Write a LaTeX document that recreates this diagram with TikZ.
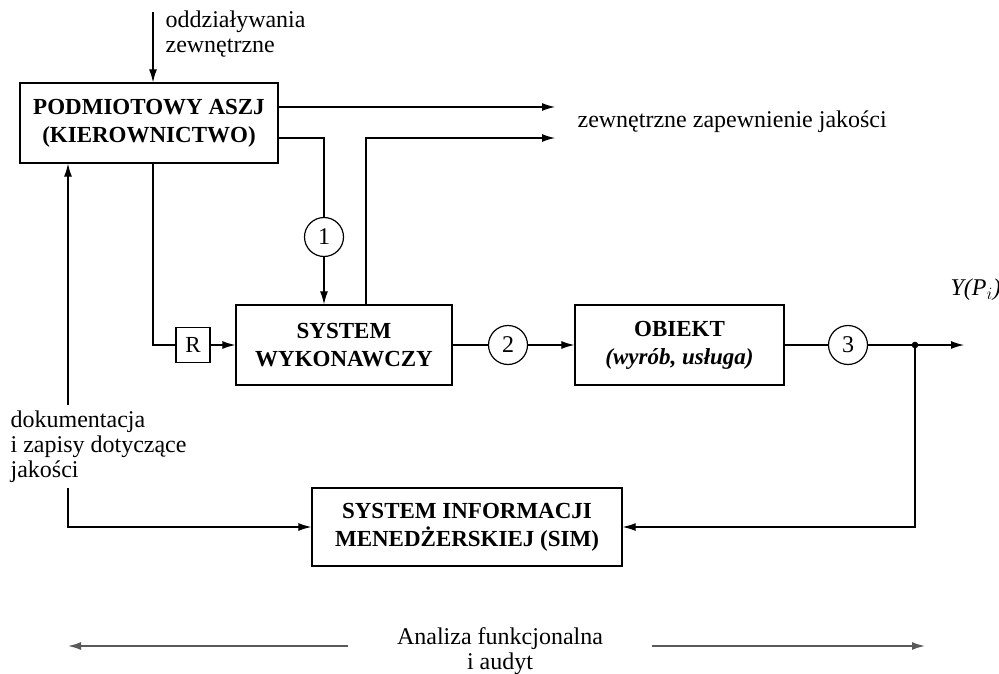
\documentclass[tikz,border=0pt]{standalone}
\usepackage{fontspec}
\setmainfont{Liberation Serif}
\usetikzlibrary{arrows.meta,calc}
\begin{document}
\begin{tikzpicture}[x=1pt,y=-1pt,
  line width=1.2pt,
  >={Latex[length=13pt,width=8pt]},
  box/.style={draw,line width=1.4pt,inner sep=0pt,align=center,
    font=\fontsize{23}{28}\selectfont\bfseries},
  circ/.style={draw,circle,line width=1.2pt,minimum size=39pt,inner sep=0pt,
    font=\fontsize{24}{24}\selectfont},
  lbl/.style={inner sep=0pt,font=\fontsize{24}{25}\selectfont},
  gray arrow/.style={->,draw=black!65,line width=1.6pt}]
\useasboundingbox (0,0) rectangle (999,674);

\node[box,minimum width=258pt,minimum height=80pt] (pod) at (149,123)
  {PODMIOTOWY ASZJ\\(KIEROWNICTWO)};
\node[box,minimum width=216pt,minimum height=80pt] (sys) at (344,345)
  {SYSTEM\\WYKONAWCZY};
\node[box,minimum width=209pt,minimum height=80pt] (obj) at (679.5,345)
  {OBIEKT\\\itshape(wyrób, usługa)};
\node[box,minimum width=310pt,minimum height=78pt] (sim) at (467,527)
  {SYSTEM INFORMACJI\\MENEDŻERSKIEJ (SIM)};
\node[draw,line width=1.2pt,minimum width=34pt,minimum height=35pt,inner sep=0pt,
  font=\fontsize{23}{24}\selectfont] (r) at (193,345) {R};
\node[circ] (c1) at (324,237) {1};
\node[circ] (c2) at (508,345) {2};
\node[circ] (c3) at (848,345) {3};
\coordinate (dot) at (915,345);
\coordinate (out) at (964,345);
\coordinate (ext) at (153,12);
\coordinate (q1) at (555,107);
\coordinate (q2) at (555,138);

\node[lbl,align=left,anchor=north west] (odd) at (165,10)
  {oddziaływania\\zewnętrzne};
\node[lbl,anchor=west] (zew) at (577,122) {zewnętrzne zapewnienie jakości};
\node[lbl,anchor=west] (y) at (950,290) {\itshape Y(P$_i$)};
\node[lbl,align=left,anchor=north west,inner ysep=5pt] (doc) at (10,405)
  {dokumentacja\\i zapisy dotyczące\\jakości};
\node[lbl,align=center] (ana) at (500,651) {Analiza funkcjonalna\\i audyt};

% top
\draw[->] (ext) -- (ext |- pod.north);
\draw[->] (pod.east |- q1) -- (q1);
\draw (pod.east |- 0,138) -- (324,138) -- (c1.north);
\draw[->] (c1.south) -- (c1.south |- sys.north);
\draw[->] (366,0 |- sys.north) -- (366,138) -- (q2);

% middle
\draw (pod.south -| ext) -- (ext |- r) -- (r.west);
\draw[->] (r.east) -- (sys.west);
\draw (sys.east) -- (c2.west);
\draw[->] (c2.east) -- (obj.west);
\draw (obj.east) -- (c3.west);
\draw[->] (c3.east) -- (out);
\fill (dot) circle (3.3pt);
\draw[->] (dot) -- (dot |- sim.east) -- (sim.east);

% left feedback
\draw[->] (doc.north -| 68,0) -- (68,0 |- pod.south);
\draw[->] (doc.south -| 68,0) -- (68,0 |- sim.west) -- (sim.west);

% bottom
\draw[gray arrow] (348,646) -- (68,646);
\draw[gray arrow] (652,646) -- (925,646);
\end{tikzpicture}
\end{document}
